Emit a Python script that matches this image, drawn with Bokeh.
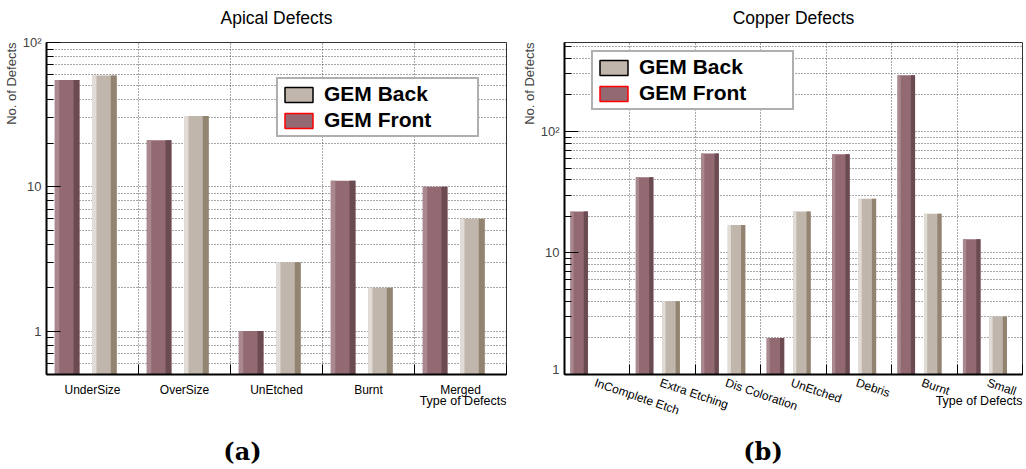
import numpy as np
from bokeh.plotting import figure
from bokeh.models import (FixedTicker, Range1d, Legend, LegendItem, Title)
from bokeh.layouts import column, row
from bokeh.embed import file_html
from bokeh.resources import INLINE
from bokeh.core.properties import value

# ---------------- data ----------------
apical_categories = ["UnderSize", "OverSize", "UnEtched", "Burnt", "Merged"]
apical_front = [55, 21, 1, 11, 10]
apical_back = [59, 31, 3, 2, 6]

copper_categories = ["InComplete Etch", "Extra Etching", "Dis Coloration",
                     "UnEtched", "Debris", "Burnt", "Small"]
copper_front = [22, 42, 66, 2, 65, 290, 13]
copper_back = [1, 4, 17, 22, 28, 21, 3]

y_tick_labels = {1: "1", 10: "10", 100: "10²"}
series_names = ["GEM Back", "GEM Front"]
captions = ["(a)", "(b)"]
x_title = "Type of Defects"
y_title = "No. of Defects"

# ---------------- style ----------------
FONT = "Liberation Sans"
FRONT = ("#946a72", "#a9888f", "#6b4b52")
BACK = ("#c0b6ab", "#e1dcd7", "#938371")
BAR_W = 0.268
FRONT_OFF = 0.09
BACK_OFF = 0.495
TOP_H, PANEL_H, LAB_H, CAP_H = 34, 342, 44, 49


def blank(fig):
    fig.axis.visible = False
    fig.grid.visible = False
    fig.outline_line_color = None
    fig.background_fill_color = "white"
    fig.border_fill_color = "white"


def draw_bars(p, vals, offset, colors, base):
    idx = np.arange(len(vals))
    left = idx + offset
    right = left + BAR_W
    top = np.array(vals, dtype=float)
    bottom = np.full(len(vals), base, dtype=float)
    p.quad(left=left, right=right, top=top, bottom=bottom,
           fill_color=colors[0], line_color=None)
    p.quad(left=left, right=left + BAR_W * 0.18, top=top, bottom=bottom,
           fill_color=colors[1], line_color=None)
    p.quad(left=right - BAR_W * 0.24, right=right, top=top, bottom=bottom,
           fill_color=colors[2], line_color=None)


def make_panel(title, cats, front, back, ymin, ymax, minor_y, width,
               border_left, legend_loc, rotate):
    n = len(cats)
    xr = Range1d(0, n)
    bounds = list(range(n + 1))
    centers = [i + 0.5 for i in range(n)]

    # ---- title strip
    t = figure(width=width, height=TOP_H, x_range=xr, y_range=Range1d(TOP_H, 0),
               output_backend="svg", toolbar_location=None,
               min_border_left=border_left, min_border_right=4,
               min_border_top=0, min_border_bottom=0)
    blank(t)
    t.text(x=[n / 2], y=[17.5], text=[title], text_font=value(FONT),
           text_font_size="17.5px", text_align="center",
           text_baseline="alphabetic", text_color="black")

    # ---- main plot
    p = figure(width=width, height=PANEL_H, x_range=xr,
               y_range=Range1d(ymin, ymax), y_axis_type="log",
               output_backend="svg", toolbar_location=None,
               min_border_left=border_left, min_border_right=4,
               min_border_top=8, min_border_bottom=2)
    p.background_fill_color = "white"
    p.border_fill_color = "white"
    p.outline_line_color = "#333333"
    p.outline_line_width = 1

    p.xaxis.ticker = FixedTicker(ticks=[], minor_ticks=bounds)
    p.xaxis.minor_tick_in = 10
    p.xaxis.minor_tick_out = 0
    p.xaxis.minor_tick_line_color = "black"
    p.xaxis.major_tick_in = 0
    p.xaxis.major_tick_out = 0
    p.xaxis.axis_line_width = 2
    p.xaxis.axis_line_color = "black"

    p.yaxis.ticker = FixedTicker(ticks=[1, 10, 100], minor_ticks=minor_y)
    p.yaxis.major_label_overrides = y_tick_labels
    p.yaxis.major_label_text_font = FONT
    p.yaxis.major_label_text_font_size = "13px"
    p.yaxis.major_label_standoff = 5
    p.yaxis.major_tick_in = 14
    p.yaxis.major_tick_out = 0
    p.yaxis.minor_tick_in = 7
    p.yaxis.minor_tick_out = 0
    p.yaxis.axis_line_width = 2
    p.yaxis.axis_line_color = "black"
    p.yaxis.major_tick_line_color = "black"
    p.yaxis.minor_tick_line_color = "black"

    p.xgrid.ticker = FixedTicker(ticks=bounds[1:-1])
    p.ygrid.ticker = FixedTicker(ticks=[1, 10, 100] + list(minor_y))
    for g in (p.xgrid, p.ygrid):
        g.grid_line_color = "#333333"
        g.grid_line_alpha = 0.85
        g.grid_line_dash = "1 2"
        g.grid_line_width = 1

    draw_bars(p, front, FRONT_OFF, FRONT, ymin)
    draw_bars(p, back, BACK_OFF, BACK, ymin)

    p.add_layout(Title(text=y_title, align="right", text_font=FONT,
                       text_font_style="normal", text_font_size="13px",
                       standoff=2), "left")

    nan = [np.nan]
    rb = p.quad(left=nan, right=nan, top=nan, bottom=nan, fill_color=BACK[0],
                line_color="black", line_width=1.5)
    rf = p.quad(left=nan, right=nan, top=nan, bottom=nan, fill_color=FRONT[0],
                line_color="red", line_width=1.5)
    legend = Legend(items=[LegendItem(label=series_names[0], renderers=[rb]),
                           LegendItem(label=series_names[1], renderers=[rf])],
                    location=legend_loc, glyph_width=35, glyph_height=19,
                    label_height=19, label_width=150, label_standoff=8,
                    padding=3, spacing=2, margin=0,
                    label_text_font=FONT, label_text_font_style="bold",
                    label_text_font_size="21px", label_text_color="black",
                    border_line_color="#606060", border_line_width=2,
                    background_fill_color="white", background_fill_alpha=1)
    p.add_layout(legend)

    # ---- category label strip (shares the x scale of the plot)
    lab = figure(width=width, height=LAB_H, x_range=xr,
                 y_range=Range1d(LAB_H, 0), output_backend="svg",
                 toolbar_location=None, min_border_left=border_left,
                 min_border_right=4, min_border_top=0, min_border_bottom=0)
    blank(lab)
    if rotate:
        lab.text(x=centers, y=[-1.0] * n, text=cats, angle=-0.33,
                 text_font=value(FONT), text_font_size="12px",
                 text_align="left", text_baseline="top", text_color="black")
        lab.text(x=[n], y=[24.0], text=[x_title], text_font=value(FONT),
                 text_font_size="12.5px", text_align="right",
                 text_baseline="alphabetic", text_color="black")
    else:
        lab.text(x=centers, y=[13.5] * n, text=cats, text_font=value(FONT),
                 text_font_size="12px", text_align="center",
                 text_baseline="alphabetic", text_color="black")
        lab.text(x=[n], y=[24.5], text=[x_title], text_font=value(FONT),
                 text_font_size="12.5px", text_align="right",
                 text_baseline="alphabetic", text_color="black")
    return t, p, lab


t1, p1, l1 = make_panel("Apical Defects", apical_categories, apical_front,
                        apical_back, 0.5, 100,
                        [0.6, 0.7, 0.8, 0.9, 2, 3, 4, 5, 6, 7, 8, 9,
                         20, 30, 40, 50, 60, 70, 80, 90],
                        510, 46, (230, 237), False)
t2, p2, l2 = make_panel("Copper Defects", copper_categories, copper_front,
                        copper_back, 1, 540,
                        [2, 3, 4, 5, 6, 7, 8, 9, 20, 30, 40, 50, 60, 70, 80, 90,
                         200, 300, 400, 500],
                        516, 54, (27, 264), True)

cap = figure(width=1026, height=CAP_H, x_range=Range1d(0, 1026),
             y_range=Range1d(CAP_H, 0), output_backend="svg",
             toolbar_location=None, min_border=0)
blank(cap)
cap.text(x=[242, 762.5], y=[31, 31], text=captions,
         text_font=value("DejaVu Serif"), text_font_style="bold",
         text_font_size="24px", text_align="center", text_baseline="middle",
         text_color="black")

layout = column(row(t1, t2), row(p1, p2), row(l1, l2), cap)
open("out.html", "w").write(file_html(layout, INLINE))
